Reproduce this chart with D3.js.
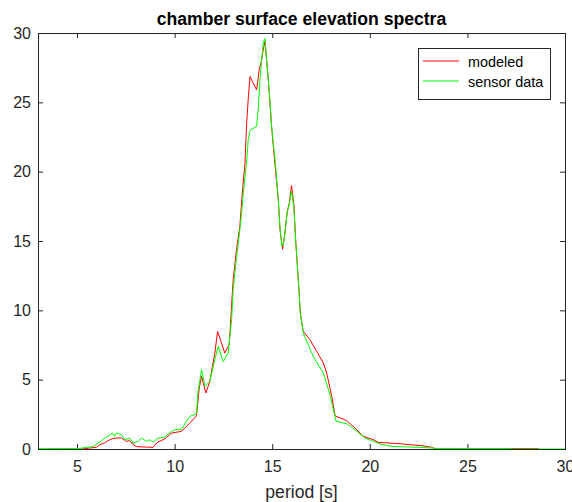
<!DOCTYPE html>
<html>
<head>
<meta charset="utf-8">
<script src="https://cdn.jsdelivr.net/npm/d3@7"></script>
<style>
  body { margin: 0; background: #fff; }
  svg { display: block; font-family: "Liberation Sans", Arial, sans-serif; }
</style>
</head>
<body>
<svg id="drawing_region"></svg>
<script>
// modeled spectrum (period [s], elevation)
const modeledPeriod = [3.6, 5.3, 5.65, 6.0, 6.16, 6.42, 6.68, 6.85, 7.02, 7.28, 7.53, 7.7, 7.87, 8.05, 8.5, 8.9, 9.07, 9.5, 9.84, 10.35, 10.6, 10.78, 11.12, 11.26, 11.38, 11.6, 11.8, 12.06, 12.2, 12.4, 12.57, 12.8, 12.92, 13.0, 13.17, 13.34, 13.48, 13.6, 13.69, 13.77, 13.86, 14.2, 14.33, 14.46, 14.54, 14.63, 14.71, 14.8, 14.88, 14.97, 15.09, 15.23, 15.31, 15.4, 15.53, 15.65, 15.77, 15.87, 15.99, 16.11, 16.2, 16.27, 16.37, 16.44, 16.59, 16.93, 17.28, 17.62, 17.79, 18.05, 18.22, 18.82, 19.24, 19.67, 20.18, 20.44, 21.55, 22.06, 22.66, 23.17, 23.3, 28.64];
const modeledValue = [0, 0, 0.07, 0.12, 0.31, 0.45, 0.67, 0.76, 0.79, 0.79, 0.55, 0.6, 0.31, 0.17, 0.14, 0.12, 0.43, 0.74, 1.15, 1.27, 1.63, 1.87, 2.4, 4.4, 5.23, 4.04, 4.87, 6.92, 8.48, 7.64, 6.92, 7.52, 10.4, 12.2, 14.37, 16.05, 18.7, 20.5, 23.5, 25.2, 26.86, 25.9, 27.3, 28.1, 28.8, 29.4, 28.1, 26.6, 25.0, 23.2, 21.3, 19.2, 18.0, 15.8, 14.4, 15.57, 17.13, 17.7, 19.0, 17.6, 15.1, 13.65, 11.5, 9.8, 8.48, 7.88, 7.04, 6.2, 5.48, 3.79, 2.4, 2.04, 1.51, 0.91, 0.67, 0.48, 0.38, 0.31, 0.24, 0.12, 0.04, 0.03];

// sensor data spectrum
const sensorPeriod = [3.0, 5.14, 5.5, 5.82, 6.0, 6.16, 6.42, 6.68, 6.81, 6.93, 7.02, 7.28, 7.45, 7.7, 7.87, 8.13, 8.3, 8.56, 8.73, 8.9, 9.15, 9.47, 9.84, 10.01, 10.35, 10.6, 10.78, 11.12, 11.2, 11.38, 11.55, 11.8, 12.06, 12.23, 12.49, 12.74, 12.92, 13.0, 13.17, 13.34, 13.43, 13.55, 13.7, 13.77, 13.87, 14.2, 14.28, 14.37, 14.46, 14.54, 14.63, 14.71, 14.8, 14.88, 14.97, 15.05, 15.14, 15.23, 15.31, 15.4, 15.5, 15.57, 15.65, 15.77, 15.87, 15.99, 16.11, 16.2, 16.27, 16.37, 16.44, 16.59, 17.1, 17.62, 17.96, 18.27, 18.82, 19.24, 19.76, 20.1, 20.52, 21.12, 22.5, 23.2, 23.5, 27.2, 27.4, 30.0];
const sensorValue = [0.02, 0.04, 0.12, 0.17, 0.35, 0.5, 0.79, 0.98, 1.15, 0.91, 1.15, 1.03, 0.67, 0.79, 0.43, 0.55, 0.79, 0.55, 0.67, 0.5, 0.79, 0.85, 1.27, 1.39, 1.4, 1.99, 2.35, 2.55, 4.15, 5.72, 4.51, 4.87, 6.44, 7.4, 6.3, 6.92, 9.32, 11.5, 13.8, 15.8, 17.0, 18.9, 20.86, 22.3, 23.0, 23.26, 24.46, 26.6, 28.07, 29.27, 29.6, 28.07, 26.6, 25.2, 23.3, 22.06, 21.0, 19.4, 18.0, 15.9, 14.6, 14.7, 15.6, 17.1, 17.6, 18.6, 17.4, 15.0, 13.6, 11.4, 9.8, 8.36, 6.68, 5.48, 3.91, 1.99, 1.82, 1.39, 0.79, 0.6, 0.36, 0.19, 0.12, 0.07, 0.03, 0.03, 0, 0];

const xTicks = [5, 10, 15, 20, 25, 30];
const yTicks = [0, 5, 10, 15, 20, 25, 30];
const seriesNames = ["modeled", "sensor data"];
const seriesColors = ["#ff0000", "#00ff00"];

const config = {
    width: 572,
    height: 502,
    margin: {top: 33, right: 7, bottom: 53, left: 38}
};

const svg = d3.select('#drawing_region')
    .attr('width', config.width)
    .attr('height', config.height);

const inner_width = config.width - config.margin.left - config.margin.right;
const inner_height = config.height - config.margin.top - config.margin.bottom;

const chart = svg.append('g')
    .attr('transform', `translate(${config.margin.left}, ${config.margin.top})`);

const xscale = d3.scaleLinear().domain([3, 30]).range([0, inner_width]);
const yscale = d3.scaleLinear().domain([0, 30]).range([inner_height, 0]);

const axisColor = '#262626';

// axes with inward ticks on all four sides
const xaxis_group = chart.append('g')
    .attr('transform', `translate(0, ${inner_height})`)
    .call(d3.axisBottom(xscale).tickValues(xTicks).tickSize(-5).tickSizeOuter(0).tickPadding(12));
const xaxis_top = chart.append('g')
    .call(d3.axisTop(xscale).tickValues(xTicks).tickSize(-5).tickSizeOuter(0).tickFormat(''));
const yaxis_group = chart.append('g')
    .call(d3.axisLeft(yscale).tickValues(yTicks).tickSize(-5).tickSizeOuter(0).tickPadding(7));
const yaxis_right = chart.append('g')
    .attr('transform', `translate(${inner_width}, 0)`)
    .call(d3.axisRight(yscale).tickValues(yTicks).tickSize(-5).tickSizeOuter(0).tickFormat(''));

chart.selectAll('.domain').remove();
chart.selectAll('.tick line').attr('stroke', axisColor);
chart.selectAll('.tick text')
    .attr('fill', axisColor)
    .style('font-size', '16px')
    .style('font-family', '"Liberation Sans", Arial, sans-serif');

// lines
const line = d3.line()
    .x(d => xscale(d[0]))
    .y(d => yscale(d[1]));

const modeled = modeledPeriod.map((p, i) => [p, modeledValue[i]]);
const sensor = sensorPeriod.map((p, i) => [p, sensorValue[i]]);

chart.append('path')
    .datum(modeled)
    .attr('d', line)
    .attr('fill', 'none')
    .attr('stroke', seriesColors[0])
    .attr('stroke-width', 1);

chart.append('path')
    .datum(sensor)
    .attr('d', line)
    .attr('fill', 'none')
    .attr('stroke', seriesColors[1])
    .attr('stroke-width', 1);

// box
chart.append('rect')
    .attr('x', 0.5)
    .attr('y', 0.5)
    .attr('width', inner_width)
    .attr('height', inner_height)
    .attr('fill', 'none')
    .attr('stroke', axisColor)
    .attr('stroke-width', 1);

// Title
svg.append('text')
    .attr('text-anchor', 'middle')
    .attr('x', config.margin.left + inner_width / 2)
    .attr('y', 25)
    .text('chamber surface elevation spectra')
    .style('font-size', '17.6px')
    .style('font-weight', 'bold')
    .attr('fill', '#000');

// Xlabel
svg.append('text')
    .attr('text-anchor', 'middle')
    .attr('x', config.margin.left + inner_width / 2)
    .attr('y', 498)
    .text('period [s]')
    .style('font-size', '17.6px')
    .attr('fill', axisColor);

// Legend
const legend = svg.append('g').attr('transform', 'translate(418, 48)');
legend.append('rect')
    .attr('x', 0.5).attr('y', 0.5)
    .attr('width', 132).attr('height', 51)
    .attr('fill', '#fff')
    .attr('stroke', axisColor);

seriesNames.forEach((name, i) => {
    const yy = 13 + i * 20;
    legend.append('line')
        .attr('x1', 5).attr('x2', 41)
        .attr('y1', yy).attr('y2', yy)
        .attr('stroke', seriesColors[i]);
    legend.append('text')
        .attr('x', 50)
        .attr('y', yy + 6)
        .text(name)
        .style('font-size', '14.4px')
        .attr('fill', '#000');
});
</script>
</body>
</html>
